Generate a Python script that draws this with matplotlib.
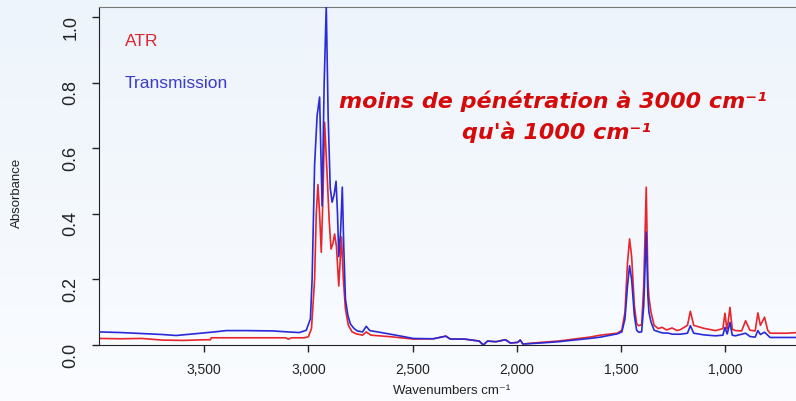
import numpy as np
import matplotlib
matplotlib.use("Agg")
import matplotlib.pyplot as plt
import matplotlib.transforms as mtransforms
from matplotlib.ticker import FuncFormatter

# spectres (nombre d'onde cm-1, absorbance)
wn_trans = [4005, 3900, 3800, 3700, 3635, 3550, 3450, 3394, 3300, 3173, 3100, 3043, 3010,
            2990, 2982, 2970, 2958, 2946, 2934, 2924, 2914, 2905, 2895, 2886, 2876, 2867,
            2860, 2854, 2845, 2837, 2830, 2822, 2810, 2798, 2780, 2765, 2740, 2722, 2705,
            2650, 2580, 2496, 2400, 2340, 2318, 2250, 2180, 2160, 2140, 2100, 2054, 2030,
            1995, 1983, 1970, 1886, 1800, 1726, 1650, 1598, 1517, 1495, 1480, 1468, 1458,
            1448, 1435, 1424, 1414, 1400, 1390, 1378, 1370, 1365, 1355, 1340, 1302, 1270,
            1254, 1214, 1180, 1166, 1150, 1102, 1046, 1010, 1000, 993, 989, 976, 965, 950,
            901, 880, 855, 842, 830, 810, 795, 783, 740, 700, 655]
ab_trans = [0.040, 0.038, 0.035, 0.032, 0.029, 0.034, 0.040, 0.044, 0.044, 0.043, 0.040,
            0.038, 0.045, 0.080, 0.20, 0.55, 0.70, 0.757, 0.425, 0.80, 1.035, 0.70, 0.48,
            0.436, 0.46, 0.50, 0.40, 0.27, 0.35, 0.482, 0.30, 0.14, 0.090, 0.064, 0.050,
            0.043, 0.040, 0.057, 0.044, 0.038, 0.030, 0.020, 0.019, 0.027, 0.018, 0.018,
            0.012, 0.000, 0.012, 0.010, 0.016, 0.006, 0.008, 0.015, 0.003, 0.006, 0.010,
            0.015, 0.020, 0.024, 0.034, 0.040, 0.080, 0.18, 0.242, 0.20, 0.090, 0.045,
            0.039, 0.040, 0.12, 0.345, 0.15, 0.10, 0.070, 0.045, 0.037, 0.036, 0.033,
            0.033, 0.036, 0.059, 0.036, 0.031, 0.028, 0.030, 0.054, 0.040, 0.034, 0.069,
            0.030, 0.028, 0.036, 0.026, 0.024, 0.044, 0.032, 0.039, 0.030, 0.023, 0.023,
            0.023, 0.023]

wn_atr = [4005, 3900, 3800, 3700, 3600, 3500, 3470, 3466, 3400, 3200, 3110, 3096, 3080,
          3020, 3000, 2985, 2970, 2962, 2954, 2946, 2938, 2930, 2922, 2912, 2900, 2891,
          2882, 2874, 2865, 2854, 2847, 2841, 2832, 2822, 2808, 2790, 2770, 2740, 2722,
          2700, 2600, 2496, 2400, 2340, 2318, 2250, 2180, 2160, 2140, 2100, 2054, 2030,
          1995, 1983, 1970, 1886, 1800, 1726, 1650, 1598, 1517, 1495, 1480, 1468, 1458,
          1448, 1435, 1424, 1414, 1400, 1390, 1378, 1370, 1365, 1355, 1340, 1320, 1302,
          1280, 1254, 1230, 1214, 1180, 1166, 1150, 1102, 1046, 1010, 1000, 993, 989,
          976, 965, 950, 920, 901, 880, 855, 842, 830, 810, 795, 783, 740, 700, 655]
ab_atr = [0.020, 0.019, 0.020, 0.015, 0.014, 0.016, 0.016, 0.022, 0.022, 0.022, 0.022,
          0.018, 0.022, 0.022, 0.025, 0.050, 0.20, 0.40, 0.49, 0.40, 0.283, 0.45, 0.68,
          0.55, 0.38, 0.293, 0.31, 0.339, 0.30, 0.18, 0.26, 0.330, 0.20, 0.11, 0.060,
          0.040, 0.034, 0.030, 0.040, 0.030, 0.025, 0.018, 0.019, 0.027, 0.018, 0.018,
          0.012, 0.000, 0.012, 0.010, 0.016, 0.006, 0.008, 0.015, 0.003, 0.008, 0.012,
          0.018, 0.024, 0.030, 0.036, 0.045, 0.10, 0.25, 0.324, 0.27, 0.12, 0.065,
          0.059, 0.062, 0.18, 0.482, 0.20, 0.146, 0.10, 0.060, 0.050, 0.054, 0.046,
          0.052, 0.044, 0.047, 0.060, 0.103, 0.060, 0.051, 0.044, 0.050, 0.097, 0.060,
          0.049, 0.115, 0.048, 0.044, 0.043, 0.074, 0.045, 0.043, 0.098, 0.060, 0.085,
          0.045, 0.036, 0.036, 0.036, 0.038]

x_ticks = [3500, 3000, 2500, 2000, 1500, 1000]
y_ticks = [0.0, 0.2, 0.4, 0.6, 0.8, 1.0]

plt.rcParams['font.family'] = ['Liberation Sans', 'DejaVu Sans']

fig = plt.figure(figsize=(7.96, 4.02), dpi=100)

# fond en degrade bleu clair
bg = fig.add_axes([0, 0, 1, 1], zorder=-1)
grad = np.linspace(0, 1, 256).reshape(-1, 1)
bg.imshow(grad, aspect='auto', extent=[0, 1, 0, 1],
          cmap=matplotlib.colors.LinearSegmentedColormap.from_list('g', ['#fafcff', '#edf4fb']),
          origin='lower')
bg.axis('off')

ax = fig.add_axes([99 / 796, 1 - 346 / 402, 1 - 99 / 796, (346 - 8) / 402])
ax.patch.set_alpha(0)

ax.plot(wn_atr, ab_atr, color='#e8252b', lw=1.2, zorder=2)
ax.plot(wn_trans, ab_trans, color='#2a2ad8', lw=1.2, zorder=3)

ax.set_xlim(4005, 659)
ax.set_ylim(0, 1.032)
ax.set_xticks(x_ticks)
ax.set_yticks(y_ticks)
ax.xaxis.set_major_formatter(FuncFormatter(lambda v, p: f"{int(v):,}"))
ax.tick_params(axis='x', labelsize=10, length=5, width=1, pad=7, colors='#222222')
ax.tick_params(axis='y', labelsize=13, length=5, width=1, pad=9, colors='#222222')
shift = mtransforms.ScaledTranslation(0, -9 / 100, fig.dpi_scale_trans)
for lab in ax.get_yticklabels():
    lab.set_rotation(90)
    lab.set_va('center')
    lab.set_transform(lab.get_transform() + shift)

ax.spines['right'].set_visible(False)
ax.spines['top'].set_color('#777777')
ax.spines['left'].set_color('#222222')
ax.spines['bottom'].set_color('#222222')

fig.text(17 / 796, 1 - 193 / 402, 'Absorbance', rotation=90, ha='center', va='center',
         fontsize=9.5, color='#222222')
fig.text(452 / 796, 1 - 391 / 402, 'Wavenumbers cm\u207b\u00b9', ha='center', va='center',
         fontsize=9.5, color='#222222')

fig.text(125 / 796, 1 - 41 / 402, 'ATR', ha='left', va='center', fontsize=12.5, color='#d9262f')
fig.text(125 / 796, 1 - 83 / 402, 'Transmission', ha='left', va='center', fontsize=12.5,
         color='#3b3bcc')

fig.text(553 / 796, 1 - 101 / 402, 'moins de pénétration à 3000 cm\u207b\u00b9', ha='center',
         va='center', fontsize=16, color='#d50a0a', fontweight='bold', fontstyle='italic',
         family='DejaVu Sans')
fig.text(556 / 796, 1 - 132 / 402, "qu'à 1000 cm\u207b\u00b9", ha='center', va='center',
         fontsize=16, color='#d50a0a', fontweight='bold', fontstyle='italic',
         family='DejaVu Sans')

fig.savefig('out.png', dpi=100)
